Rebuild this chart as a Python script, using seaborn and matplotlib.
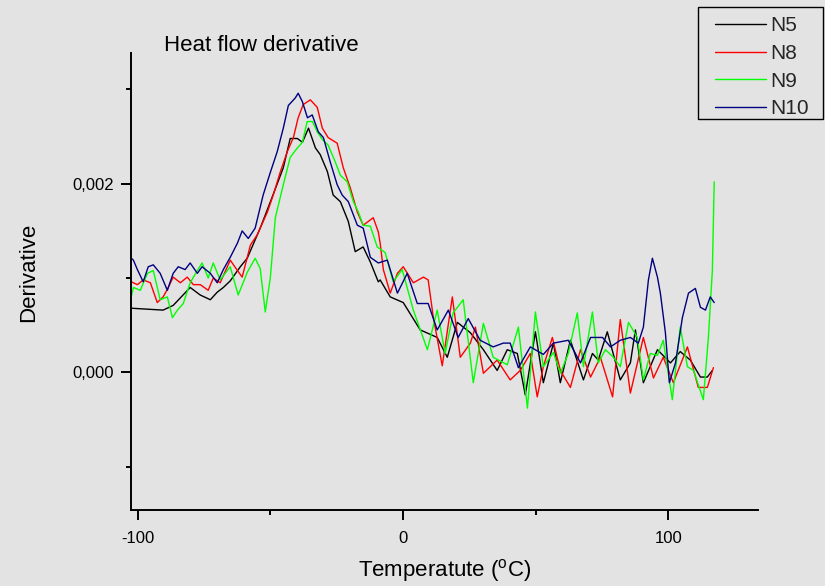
import numpy as np
import pandas as pd
import matplotlib
matplotlib.use("Agg")
import matplotlib.pyplot as plt
from matplotlib.ticker import MultipleLocator, FuncFormatter
from matplotlib.patches import Rectangle
import seaborn as sns

# ---------------- data (derivative values in units of 1e-3) ----------------
series_names = ["N5", "N8", "N9", "N10"]
series_colors = ["#000000", "#ff0000", "#00ff00", "#000080"]

n5_temp = [-102.4, -90.4, -86.6, -83.9, -80.2, -76.4, -72.6, -70.0, -67.7, -65.1, -61.3, -58.7,
           -53.8, -49.0, -45.1, -42.5, -39.8, -37.9, -35.6, -33.0, -31.2, -28.5, -26.3, -23.6,
           -20.6, -18.0, -15.0, -12.3, -9.3, -8.6, -4.8, 0.1, 6.5, 12.9, 16.7, 20.5, 25.4, 30.3,
           35.5, 39.3, 43.1, 46.1, 49.9, 52.9, 56.7, 59.3, 63.1, 68.0, 71.4, 73.6, 77.0, 81.9,
           85.7, 87.6, 90.6, 95.9, 100.8, 104.5, 108.3, 112.1, 114.7, 116.6]
n5_milli = [0.68, 0.66, 0.71, 0.79, 0.90, 0.82, 0.77, 0.85, 0.90, 0.97, 1.12, 1.21,
            1.53, 1.88, 2.17, 2.48, 2.48, 2.44, 2.59, 2.38, 2.31, 2.13, 1.88, 1.81,
            1.60, 1.28, 1.33, 1.17, 0.96, 0.98, 0.80, 0.74, 0.45, 0.37, 0.16, 0.53, 0.42, 0.24,
            0.02, 0.24, 0.20, -0.24, 0.43, -0.11, 0.31, -0.11, 0.34, -0.08, 0.20, 0.13, 0.43, -0.08,
            0.10, 0.45, -0.11, 0.24, 0.10, 0.22, 0.13, -0.05, -0.05, 0.02]

n8_temp = [-102.4, -100.1, -97.9, -95.2, -92.6, -90.4, -88.8, -86.6, -83.9, -81.3, -79.0, -76.4,
           -73.4, -71.5, -68.9, -66.2, -65.1, -62.4, -60.6, -57.5, -54.9, -51.1, -48.9, -46.3,
           -43.6, -41.3, -39.5, -37.6, -34.9, -32.3, -30.4, -28.2, -24.8, -22.5, -19.9, -17.2,
           -15.0, -11.2, -9.3, -8.6, -7.4, -4.8, -2.1, 0.1, 3.9, 7.7, 9.5, 11.4, 14.8, 18.6,
           21.6, 25.4, 27.3, 30.3, 35.5, 40.4, 44.2, 48.0, 50.6, 52.9, 56.3, 59.3, 63.1, 66.9,
           70.7, 74.4, 79.0, 81.9, 85.7, 90.6, 94.4, 98.1, 101.9, 107.2, 111.3, 114.7, 117.0]
n8_milli = [0.96, 0.93, 0.98, 0.95, 0.74, 0.80, 0.88, 1.01, 0.95, 1.01, 0.93, 0.93,
            0.87, 1.00, 0.95, 1.12, 1.19, 1.08, 1.01, 1.35, 1.46, 1.70, 1.88, 2.12,
            2.34, 2.49, 2.70, 2.84, 2.89, 2.81, 2.59, 2.49, 2.43, 2.17, 1.96, 1.70,
            1.56, 1.64, 1.49, 1.37, 1.09, 0.84, 1.05, 1.12, 0.95, 1.01, 0.98, 0.59, 0.07, 0.80,
            0.16, 0.31, 0.48, -0.01, 0.13, -0.08, 0.02, 0.20, -0.26, 0.06, 0.37, 0.02, -0.16, 0.24,
            -0.05, 0.16, -0.26, 0.56, -0.22, 0.37, -0.06, 0.16, -0.11, 0.27, -0.16, -0.16, 0.05]

n9_temp = [-102.4, -101.6, -99.0, -96.3, -94.1, -91.5, -88.8, -86.9, -85.0, -82.8, -80.2, -77.5,
           -75.7, -73.4, -71.5, -68.9, -65.1, -62.1, -58.7, -55.7, -53.8, -51.9, -50.0, -48.1,
           -45.1, -42.5, -39.8, -37.9, -36.1, -34.1, -32.3, -30.4, -28.2, -25.5, -23.6, -21.0,
           -18.7, -16.8, -15.0, -12.3, -9.7, -6.7, -3.7, -0.3, 3.9, 9.2, 12.9, 15.9, 18.9, 22.7,
           26.5, 30.3, 34.0, 39.3, 43.5, 46.9, 49.9, 52.9, 56.7, 59.3, 62.3, 65.7, 68.0, 71.4,
           73.6, 76.3, 79.3, 81.9, 85.0, 88.3, 90.6, 93.2, 95.9, 98.1, 101.5, 104.5, 107.2,
           109.5, 113.2, 115.1, 116.6, 117.3]
n9_milli = [0.80, 0.90, 0.87, 1.05, 1.08, 0.77, 0.80, 0.58, 0.66, 0.73, 0.95, 1.08,
            1.16, 1.00, 1.16, 0.98, 1.12, 0.82, 1.06, 1.21, 1.10, 0.64, 1.00, 1.64,
            1.99, 2.28, 2.38, 2.44, 2.66, 2.66, 2.55, 2.47, 2.41, 2.23, 2.09, 2.02,
            1.81, 1.70, 1.56, 1.55, 1.33, 1.27, 0.96, 1.09, 0.66, 0.24, 0.66, 0.20, 0.63, 0.77,
            -0.11, 0.52, 0.16, 0.08, 0.48, -0.38, 0.64, 0.06, 0.21, -0.01, 0.20, 0.63, 0.06, 0.64,
            0.10, 0.24, 0.16, 0.06, 0.53, 0.37, -0.08, 0.20, 0.18, 0.34, -0.29, 0.48, 0.06,
            0.02, -0.29, 0.37, 1.08, 2.02]

n10_temp = [-102.4, -101.6, -100.1, -97.9, -96.0, -94.1, -91.5, -88.8, -86.6, -84.7, -82.1, -80.2,
            -77.5, -75.7, -72.6, -70.0, -67.7, -65.1, -62.4, -60.6, -58.3, -55.7, -52.7, -50.0,
            -47.4, -45.1, -43.2, -40.6, -39.5, -37.9, -36.0, -34.2, -31.9, -30.0, -27.4, -24.8,
            -22.9, -20.6, -17.2, -15.0, -12.3, -9.3, -5.9, -2.1, 1.6, 5.4, 9.5, 12.9, 17.1, 20.8,
            24.6, 29.1, 34.0, 37.8, 40.4, 43.5, 48.0, 52.9, 56.7, 62.3, 66.9, 70.7, 75.2, 78.2,
            81.9, 85.7, 88.7, 90.6, 92.5, 94.0, 95.9, 97.0, 98.9, 100.4, 102.7, 105.3, 107.6,
            110.2, 112.1, 114.0, 115.8, 117.3]
n10_milli = [1.21, 1.19, 1.09, 0.96, 1.12, 1.14, 1.05, 0.87, 1.05, 1.12, 1.09, 1.16,
             1.05, 1.12, 1.05, 0.95, 1.09, 1.22, 1.37, 1.50, 1.42, 1.53, 1.88, 2.12,
             2.34, 2.59, 2.83, 2.91, 2.96, 2.87, 2.70, 2.73, 2.55, 2.49, 2.23, 1.99,
             1.88, 1.81, 1.56, 1.53, 1.22, 1.16, 1.19, 0.84, 1.05, 0.73, 0.73, 0.45, 0.66, 0.37,
             0.57, 0.34, 0.27, 0.31, 0.31, 0.05, 0.27, 0.19, 0.31, 0.34, 0.10, 0.37, 0.37, 0.27,
             0.34, 0.37, 0.31, 0.48, 0.98, 1.21, 1.01, 0.84, 0.42, -0.11, 0.10, 0.58, 0.84,
             0.89, 0.69, 0.66, 0.80, 0.74]

title_text = "Heat flow derivative"
x_label = "Temperatute ($^\\mathregular{o}$C)"
y_label = "Derivative"

# ---------------- build long-form table ----------------
frames = []
for name, t, v in zip(series_names,
                      [n5_temp, n8_temp, n9_temp, n10_temp],
                      [n5_milli, n8_milli, n9_milli, n10_milli]):
    frames.append(pd.DataFrame({"Temperature": t,
                                "Derivative": np.asarray(v) * 1e-3,
                                "Sample": name}))
df = pd.concat(frames, ignore_index=True)

# ---------------- styling ----------------
sns.set_theme(style="ticks")
plt.rcParams["font.family"] = ["Liberation Sans", "DejaVu Sans"]
plt.rcParams["axes.unicode_minus"] = False
plt.rcParams["mathtext.default"] = "regular"

bg = "#e3e3e3"
fig = plt.figure(figsize=(8.25, 5.86), dpi=100, facecolor=bg)
ax = fig.add_axes([131 / 825, 1 - 510 / 586, (758 - 131) / 825, (510 - 52.7) / 586])
ax.set_facecolor("none")

sns.lineplot(data=df, x="Temperature", y="Derivative", hue="Sample",
             hue_order=series_names, palette=dict(zip(series_names, series_colors)),
             estimator=None, sort=False, linewidth=1.0, ax=ax, legend=False)

ax.set_xlim(-102.5, 133.8)
ax.set_ylim(-0.00146, 0.00339)

for side in ["top", "right"]:
    ax.spines[side].set_visible(False)
for side in ["left", "bottom"]:
    ax.spines[side].set_linewidth(1.4)
    ax.spines[side].set_color("black")

ax.xaxis.set_major_locator(MultipleLocator(100))
ax.xaxis.set_minor_locator(MultipleLocator(50))
ax.yaxis.set_major_locator(MultipleLocator(0.002))
ax.yaxis.set_minor_locator(MultipleLocator(0.001))
ax.xaxis.set_major_formatter(FuncFormatter(lambda v, p: f"{v:.0f}"))
ax.yaxis.set_major_formatter(FuncFormatter(lambda v, p: f"{v:.3f}".replace(".", ",").replace("-0,000", "0,000")))
ax.tick_params(axis="both", which="major", direction="out", length=7, width=1.4,
               labelsize=12, colors="black", pad=5)
ax.tick_params(axis="both", which="minor", direction="out", length=3.8, width=1.4, colors="black")
ax.tick_params(axis="x", which="major", pad=8)

ax.set_xlabel(x_label, fontsize=16, color="black", labelpad=8)
ax.set_ylabel(y_label, fontsize=16, color="black")
ax.yaxis.set_label_coords(-0.147, 0.52)

fig.text(164 / 825, 1 - 51 / 586, title_text, fontsize=16, color="black",
         ha="left", va="baseline")

# legend
handles = [plt.Line2D([], [], color=c, lw=1.0) for c in series_colors]
leg = fig.legend(handles, series_names, loc="upper left",
                 bbox_to_anchor=(711 / 825, 1 - 12 / 586), frameon=False,
                 fontsize=15, handlelength=2.45, handletextpad=0.2,
                 labelspacing=0.42, borderpad=0.2, borderaxespad=0)
fig.patches.append(Rectangle((698 / 825, 1 - 119 / 586), (823 - 698) / 825, (119 - 7) / 586,
                             transform=fig.transFigure, fill=False, ec="black", lw=1.0))

fig.savefig("out.png", dpi=100, facecolor=bg)
